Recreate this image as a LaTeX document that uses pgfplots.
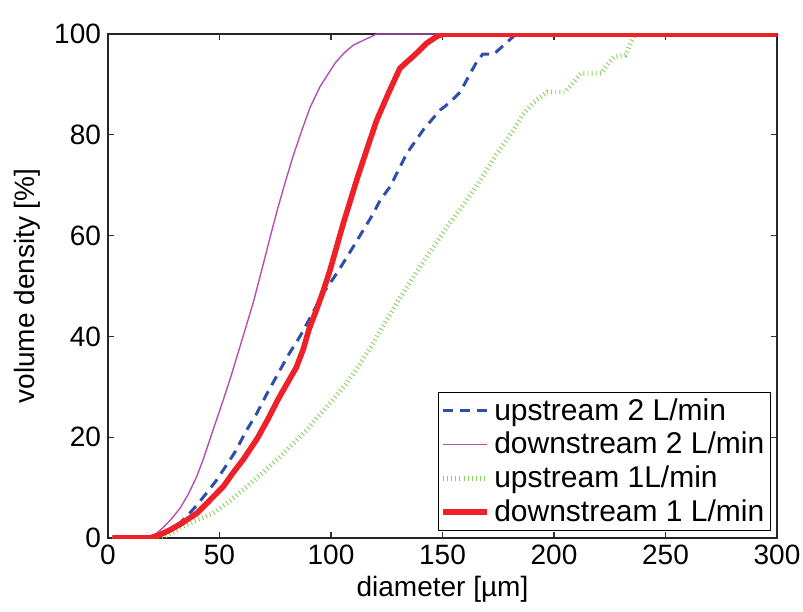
\documentclass[border=0pt]{standalone}
\usepackage{fontspec}
\setmainfont{Liberation Sans}
\usepackage{pgfplots}
\pgfplotsset{compat=1.18}
\definecolor{cblue}{RGB}{46,78,168}
\definecolor{cpurple}{RGB}{180,80,180}
\definecolor{cgreen}{RGB}{135,210,95}
\definecolor{cred}{RGB}{238,32,40}
\begin{document}
\begin{tikzpicture}
\begin{axis}[
  name=ax,
  scale only axis,
  width=334.5pt, height=252pt,
  xmin=0, xmax=300, ymin=0, ymax=100,
  xtick={0,50,100,150,200,250,300},
  ytick={0,20,40,60,80,100},
  /pgf/number format/assume math mode=true,
  ticklabel style={font=\fontsize{14}{16}\selectfont},
  label style={font=\fontsize{14}{16}\selectfont},
  xlabel={diameter [µm]},
  ylabel={volume density [\%]},
  xlabel style={yshift=1pt},
  ylabel style={yshift=0pt},
  tick align=inside,
  xtick pos=both, ytick pos=both,
  major tick length=3pt,
  axis line style={line width=0.9pt, black!85},
  every tick/.style={black!80, line width=0.6pt},
  legend style={at={(rel axis cs:0.991,0.014)}, anchor=south east, draw=black, line width=0.6pt,
    font=\fontsize{15}{17}\selectfont, inner sep=1pt, row sep=0.5pt},
  legend cell align=left,
  legend image code/.code={\draw[#1] (0cm,0cm) -- (0.78cm,0cm);},
]
\addplot[cblue, line width=1.5pt, dash pattern=on 5pt off 3.5pt] coordinates {
(2,0)(20,0)(24,0.5)(28,1.7)(32.3,3)(36,4.6)(39.8,6.5)(44,8.8)(48.7,11.5)(54.7,15.5)(57,17.1)(62.2,21.4)(66.7,24.7)(71,28.4)(77.1,33.3)(81,36.4)(86.1,40)(91,44)(96.5,48.6)(102.6,52.5)(110,57.8)(119,64.4)(122,67)(126.5,69.7)(134,76.3)(141.4,81)(148.9,84.9)(153,86.3)(158,88.5)(161,91)(165,94.2)(168,96)(173,96)(178,98)(183,100)(300,100)
};
\addlegendentry{upstream 2 L/min}
\addplot[cpurple, line width=0.7pt] coordinates {
(2,0)(17,0)(19,0.3)(22,1)(25,2.2)(28.5,3.8)(32.3,5.9)(36,8.7)(39.8,12.2)(42.7,15.6)(47,21.3)(51.7,27.4)(55.5,32.6)(59.2,38)(65.2,46.8)(70,55)(73,60.2)(76,65.2)(79.4,70.5)(83.1,75.9)(87,81)(90.6,85.4)(95,89.5)(101.8,94.2)(106,96.3)(110,97.8)(120.5,100)(300,100)
};
\addlegendentry{downstream 2 L/min}
\addplot[cgreen, line width=2.4pt, dash pattern=on 0.45pt off 1.6pt] coordinates {
(2,0)(22,0)(27,0.6)(32.3,2)(39,3.4)(47.1,4.9)(55,7.5)(62.2,10.2)(70,13.2)(77.1,16.1)(83,18.7)(89.1,21.4)(94,24)(100,27)(107,30.7)(113,34.5)(119,38.7)(124,42.5)(130,47)(137,51.8)(144,56.5)(152,61.7)(160,66.5)(167,71)(174,76)(182,81)(186,84)(191,86.5)(197,88.5)(205,88.5)(209,90.5)(212,92.2)(221,92.2)(224,94)(227,95.5)(232,95.8)(236,99.8)(238,100)(300,100)
};
\addlegendentry{upstream 1L/min}
\addplot[cred, line width=2.8pt] coordinates {
(2,0)(18.8,0)(23,0.6)(27.8,1.6)(33,2.9)(39.8,4.9)(45,7.2)(51.7,10.2)(56,12.9)(60.7,15.6)(67,19.8)(72,23.8)(76,27.3)(80.1,30.5)(84.4,33.8)(87.6,37.5)(90.2,41.5)(93.6,45.4)(96.5,49)(99.6,53.2)(105.5,62.4)(111.5,71)(116,77)(120.5,82.9)(126,88.5)(130.9,93.2)(138.4,96.2)(143,98.2)(147.4,99.5)(150,100)(300,100)
};
\addlegendentry{downstream 1 L/min}
\coordinate (sw) at (rel axis cs:0,0);
\coordinate (ne) at (rel axis cs:1,1);
\end{axis}
\pgfresetboundingbox
\path ([shift={(-54pt,-36.5pt)}]sw) rectangle ([shift={(13pt,17pt)}]ne);
\end{tikzpicture}
\end{document}
